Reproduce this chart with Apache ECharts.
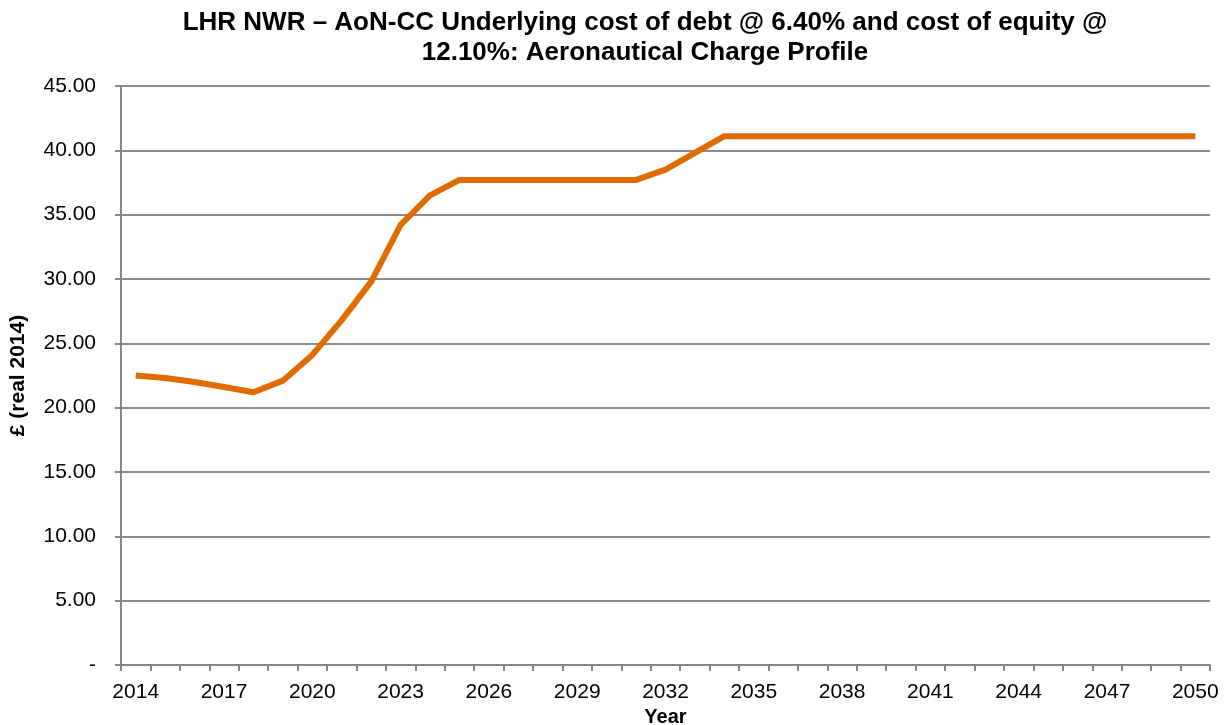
<!DOCTYPE html>
<html><head><meta charset="utf-8">
<script src="https://cdn.jsdelivr.net/npm/echarts@6/dist/echarts.min.js"></script>
<style>html,body{margin:0;padding:0;background:#fff}#c{width:1224px;height:725px}</style>
</head><body><div id="c"></div>
<script>
const years = [];
for (let y = 2014; y <= 2050; y++) years.push(String(y));
const charge = [22.5, 22.3, 22.0, 21.6, 21.2, 22.1, 24.1, 26.8, 29.8, 34.2, 36.5, 37.7,
  37.7, 37.7, 37.7, 37.7, 37.7, 37.7, 38.5, 39.8, 41.1,
  41.1, 41.1, 41.1, 41.1, 41.1, 41.1, 41.1, 41.1, 41.1, 41.1, 41.1, 41.1, 41.1, 41.1, 41.1, 41.1];
const titleText = 'LHR NWR \u2013 AoN-CC Underlying cost of debt @ 6.40% and cost of equity @\n12.10%: Aeronautical Charge Profile';
const chart = echarts.init(document.getElementById('c'));
const font = 'Liberation Sans, Arial, sans-serif';
chart.setOption({
  animation: false,
  title: { text: titleText, left: 640, top: 3, textAlign: 'center',
    textStyle: { fontFamily: font, fontSize: 26, fontWeight: 'bold', color: '#000', lineHeight: 30 } },
  grid: { left: 121, right: 14, top: 86, bottom: 60, containLabel: false, outerBoundsMode: 'none' },
  xAxis: {
    type: 'category', data: years, boundaryGap: true,
    name: 'Year', nameLocation: 'middle', nameGap: 31,
    nameTextStyle: { fontFamily: font, fontSize: 20, fontWeight: 'bold', color: '#000' },
    axisLine: { lineStyle: { color: '#868686', width: 2 } },
    axisTick: { show: true, interval: 0, length: 6, lineStyle: { color: '#868686', width: 2 } },
    axisLabel: { interval: 2, fontFamily: font, fontSize: 21, color: '#000', margin: 17 },
    splitLine: { show: false }
  },
  yAxis: {
    type: 'value', min: 0, max: 45, interval: 5,
    name: '\u00a3 (real 2014)', nameLocation: 'middle', nameGap: 92, nameRotate: 90,
    nameTextStyle: { fontFamily: font, fontSize: 21, fontWeight: 'bold', color: '#000' },
    axisLine: { show: true, lineStyle: { color: '#868686', width: 2 } },
    axisTick: { show: true, length: 6, lineStyle: { color: '#868686', width: 2 } },
    axisLabel: { fontFamily: font, fontSize: 21, color: '#000', margin: 25,
      formatter: v => v === 0 ? '-' : v.toFixed(2) },
    splitLine: { show: true, lineStyle: { color: '#8c8c8c', width: 2 } }
  },
  series: [{
    type: 'line', data: charge, symbol: 'none',
    lineStyle: { color: '#E06C00', width: 6, join: 'round' }
  }]
});
</script></body></html>
